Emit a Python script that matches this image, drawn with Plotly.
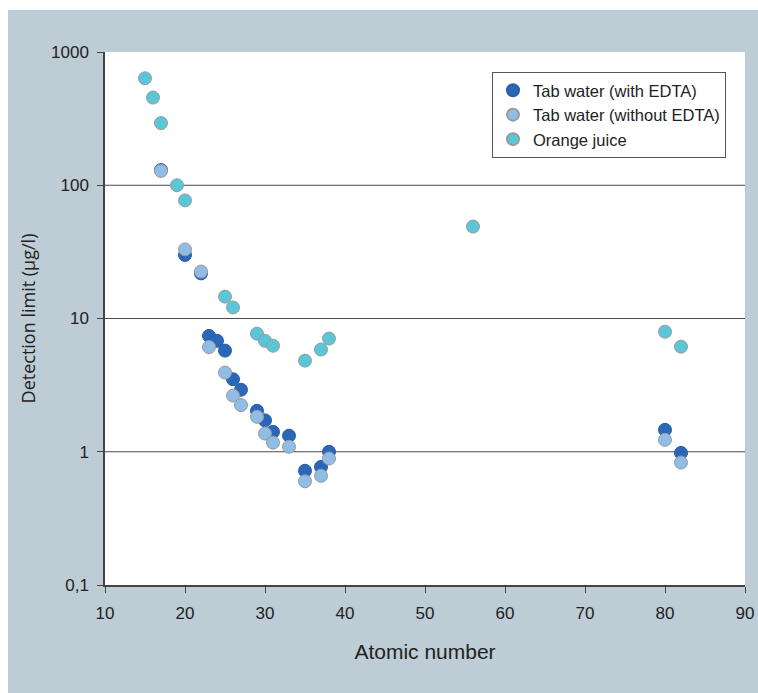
import plotly.graph_objects as go

# ---- data ----
z_edta = [17, 20, 22, 23, 24, 25, 26, 27, 29, 30, 31, 33, 35, 37, 38, 80, 82]
v_edta = [130, 30, 21.8, 7.4, 6.8, 5.74, 3.5, 2.92, 2.03, 1.72, 1.41, 1.32, 0.72, 0.77, 1.0, 1.46, 0.98]

z_noedta = [17, 20, 22, 23, 25, 26, 27, 29, 30, 31, 33, 35, 37, 38, 80, 82]
v_noedta = [128, 33, 22.5, 6.1, 3.93, 2.64, 2.24, 1.83, 1.37, 1.17, 1.09, 0.60, 0.66, 0.89, 1.23, 0.83]

z_oj = [15, 16, 17, 19, 20, 25, 26, 29, 30, 31, 35, 37, 38, 56, 80, 82]
v_oj = [635, 455, 293, 100, 77, 14.6, 12.1, 7.7, 6.8, 6.25, 4.83, 5.85, 7.07, 49, 7.96, 6.15]

series_names = ["Tab water (with EDTA)", "Tab water (without EDTA)", "Orange juice"]
y_tickvals = [0.1, 1, 10, 100, 1000]
y_ticktext = ["0,1", "1", "10", "100", "1000"]
x_tickvals = [10, 20, 30, 40, 50, 60, 70, 80, 90]
grid_vals = [1, 10, 100]

# ---- style ----
C_DARK = "#2b67b9"
C_LIGHT = "#90bde6"
C_CYAN = "#5ac7d9"
PANEL = "#bdccd5"
TICK_FONT = dict(family="Liberation Sans, Arial, sans-serif", size=17, color="#222222")

fig = go.Figure()
fig.add_trace(go.Scatter(x=z_edta, y=v_edta, mode="markers", name=series_names[0],
                         marker=dict(size=13, color=C_DARK, line=dict(color="#2a5ea8", width=1))))
fig.add_trace(go.Scatter(x=z_noedta, y=v_noedta, mode="markers", name=series_names[1],
                         marker=dict(size=13, color=C_LIGHT, line=dict(color="#9a9a9a", width=1))))
fig.add_trace(go.Scatter(x=z_oj, y=v_oj, mode="markers", name=series_names[2],
                         marker=dict(size=13, color=C_CYAN, line=dict(color="#9a9a9a", width=1))))

# plot geometry (pixels)
W, H = 758, 693
L, R, T, B = 105, 13, 52, 108
pw, ph = W - L - R, H - T - B

def px_x(p):
    return (p - L) / pw

def px_y(p):
    return (H - B - p) / ph

shapes = [
    dict(type="rect", xref="paper", yref="paper", layer="below",
         x0=px_x(8), x1=px_x(W + 2), y0=px_y(H + 2), y1=px_y(10),
         fillcolor=PANEL, line=dict(width=0)),
    dict(type="rect", xref="paper", yref="paper", layer="below",
         x0=0, x1=1, y0=0, y1=1, fillcolor="white", line=dict(width=0)),
]
for g in grid_vals:
    shapes.append(dict(type="line", xref="paper", yref="y", layer="below",
                       x0=0, x1=1, y0=g, y1=g, line=dict(color="#4a4a4a", width=1.2)))

fig.update_layout(
    width=W, height=H,
    margin=dict(l=L, r=R, t=T, b=B, autoexpand=False),
    paper_bgcolor="white",
    plot_bgcolor="rgba(0,0,0,0)",
    shapes=shapes,
    showlegend=True,
    legend=dict(x=px_x(492), y=px_y(72), xanchor="left", yanchor="top",
                bgcolor="white", bordercolor="#555555", borderwidth=1,
                font=dict(family="Liberation Sans, Arial, sans-serif", size=16.5, color="#222222"),
                itemsizing="constant", tracegroupgap=0),
    xaxis=dict(
        range=[10, 90], tickvals=x_tickvals, ticks="outside", ticklen=6, tickcolor="#444444",
        showline=True, linecolor="#444444", linewidth=1.5, showgrid=False, zeroline=False,
        tickfont=TICK_FONT, ticklabelstandoff=6, automargin=False,
        title=dict(text="Atomic number", standoff=22,
                   font=dict(family="Liberation Sans, Arial, sans-serif", size=21, color="#222222")),
    ),
    yaxis=dict(
        type="log", range=[-1, 3], tickvals=y_tickvals, ticktext=y_ticktext,
        ticks="outside", ticklen=6, tickcolor="#444444",
        showline=True, linecolor="#444444", linewidth=1.5, showgrid=False, zeroline=False,
        tickfont=TICK_FONT, ticklabelstandoff=5, automargin=False,
        title=dict(text="Detection limit (µg/l)", standoff=11,
                   font=dict(family="Open Sans, Noto Sans, sans-serif", size=18, color="#222222")),
    ),
)

fig.write_html(
    "out.html",
    config={"displayModeBar": False},
    post_script="document.body.style.margin='0';document.body.style.overflow='hidden';"
                "window.dispatchEvent(new Event('resize'));",
)
